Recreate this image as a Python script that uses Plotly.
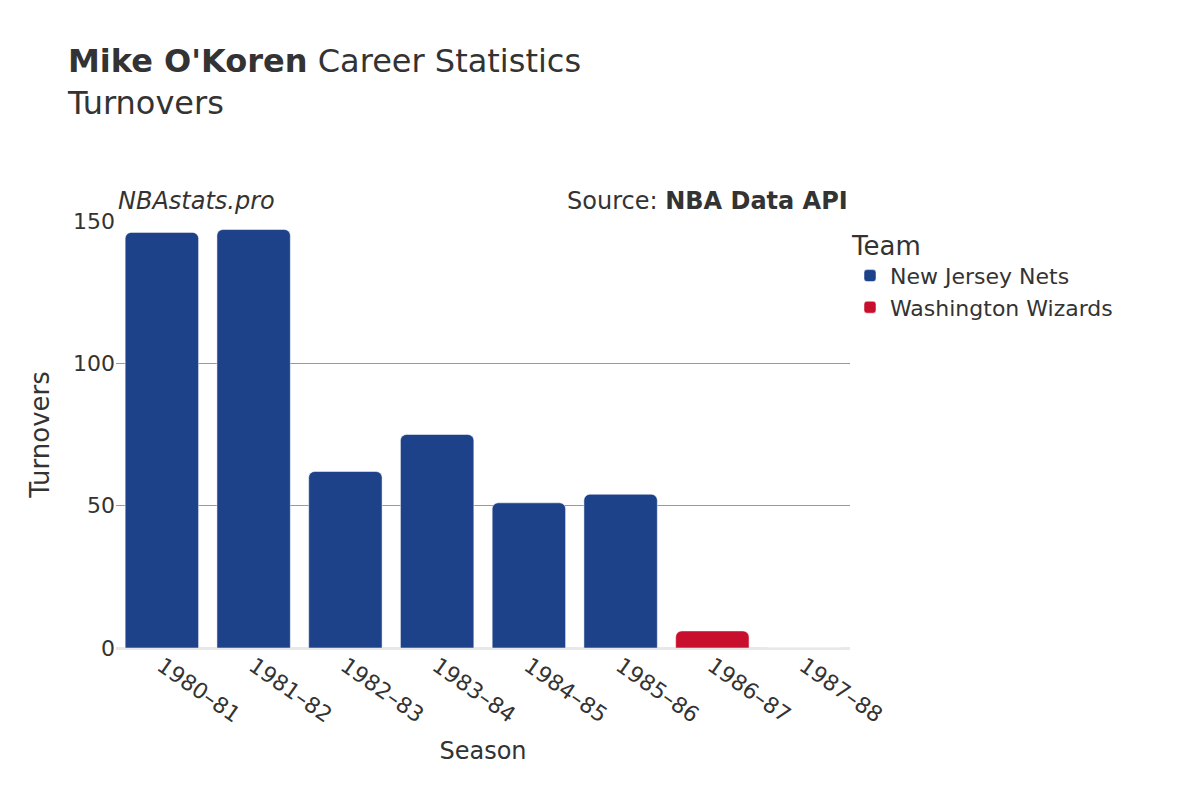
import plotly.graph_objects as go

seasons = ["1980–81","1981–82","1982–83","1983–84","1984–85","1985–86","1986–87","1987–88"]
nets_seasons = ["1980–81","1981–82","1982–83","1983–84","1984–85","1985–86"]
nets_vals = [146, 147, 62, 75, 51, 54]
wiz_seasons = ["1986–87","1987–88"]
wiz_vals = [6, 0]

fig = go.Figure()
fig.add_bar(x=nets_seasons, y=nets_vals, name="New Jersey Nets", marker=dict(color="#1d4289", cornerradius=6))
fig.add_bar(x=wiz_seasons, y=wiz_vals, name="Washington Wizards", marker=dict(color="#c8102e", cornerradius=6))

fig.update_layout(
    width=1200, height=800, template="plotly_white", barmode="overlay",
    font=dict(family="DejaVu Sans", color="#333", size=20),
    title=dict(text="<b>Mike O'Koren</b> Career Statistics<br>Turnovers", x=0.05, y=0.92, font=dict(size=32)),
    margin=dict(l=108, r=358, t=213, b=160),
    bargap=0.2,
    legend=dict(title=dict(text="Team"), x=1.0, y=1.0, xanchor="left", yanchor="top", font=dict(size=22)),
    xaxis=dict(title=dict(text="Season"), tickangle=35, categoryorder="array", categoryarray=seasons, tickfont=dict(size=22)),
    yaxis=dict(title=dict(text="Turnovers", font=dict(size=26)), range=[0, 150], tickvals=[0,50,100,150],
               gridcolor="#999", zeroline=True, zerolinecolor="#e8e8e8", zerolinewidth=3, tickfont=dict(size=22)),
    annotations=[
        dict(text="<i>NBAstats.pro</i>", xref="paper", yref="paper", x=0, y=1.01, xanchor="left", yanchor="bottom", showarrow=False, font=dict(size=24)),
        dict(text="Source: <b>NBA Data API</b>", xref="paper", yref="paper", x=1, y=1.01, xanchor="right", yanchor="bottom", showarrow=False, font=dict(size=24)),
    ],
)
fig.write_html("out.html")
